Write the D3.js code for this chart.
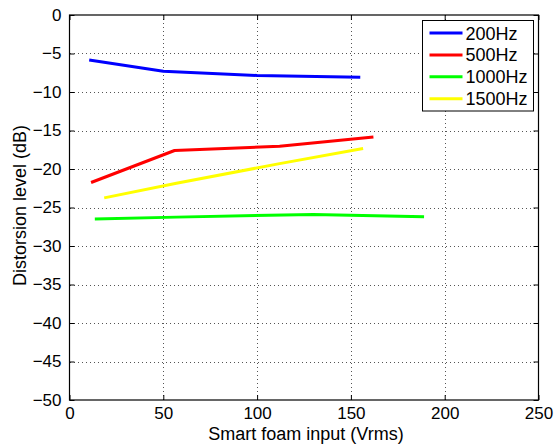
<!DOCTYPE html>
<html>
<head>
<meta charset="utf-8">
<script src="https://cdn.jsdelivr.net/npm/d3@7"></script>
<style>
  html, body { margin: 0; padding: 0; background: #fff; }
  svg text { font-family: "Liberation Sans", Arial, Helvetica, sans-serif; fill: #000; }
</style>
</head>
<body>
<svg id="chart" width="554" height="448"></svg>
<script>
// ---- data ----
const seriesNames = ["200Hz", "500Hz", "1000Hz", "1500Hz"];
const seriesColors = ["#0000ff", "#ff0000", "#00ff00", "#ffff00"];
const x200 = [10.5, 50, 100, 155];
const y200 = [-5.85, -7.3, -7.85, -8.1];
const x500 = [11.5, 56, 112, 162];
const y500 = [-21.75, -17.6, -17.05, -15.85];
const x1000 = [13.5, 57, 130, 189];
const y1000 = [-26.5, -26.25, -25.9, -26.2];
const x1500 = [18.5, 57, 112, 156.5];
const y1500 = [-23.75, -21.85, -19.3, -17.35];
const xTicks = [0, 50, 100, 150, 200, 250];
const yTicks = [0, -5, -10, -15, -20, -25, -30, -35, -40, -45, -50];
const xLabel = "Smart foam input (Vrms)";
const yLabel = "Distorsion level (dB)";

const seriesX = [x200, x500, x1000, x1500];
const seriesY = [y200, y500, y1000, y1500];

// ---- layout ----
const L = 69.5, R = 538.5, T = 15, B = 400;
const svg = d3.select("#chart");
const x = d3.scaleLinear().domain([0, 250]).range([L, R]);
const y = d3.scaleLinear().domain([-50, 0]).range([B, T]);

// grid
const grid = svg.append("g").attr("stroke", "#555").attr("stroke-width", 1)
  .attr("stroke-dasharray", "1,3").attr("shape-rendering", "crispEdges");
xTicks.slice(1, -1).forEach(t => {
  grid.append("line").attr("x1", Math.round(x(t)) + 0.5).attr("x2", Math.round(x(t)) + 0.5)
    .attr("y1", T).attr("y2", B);
});
yTicks.slice(1, -1).forEach(t => {
  grid.append("line").attr("y1", Math.round(y(t)) + 0.5).attr("y2", Math.round(y(t)) + 0.5)
    .attr("x1", L).attr("x2", R);
});

// axes (ticks inward)
const fs = 17;
const xAxisB = d3.axisBottom(x).tickValues(xTicks).tickSize(-5).tickPadding(7).tickFormat(d3.format("d"));
const xAxisT = d3.axisTop(x).tickValues(xTicks).tickSize(-5).tickFormat("");
const yAxisL = d3.axisLeft(y).tickValues(yTicks).tickSize(-5).tickPadding(8).tickFormat(d => d < 0 ? "\u2212" + Math.abs(d) : d);
const yAxisR = d3.axisRight(y).tickValues(yTicks).tickSize(-5).tickFormat("");

function style(g) {
  g.selectAll(".domain").remove();
  g.selectAll("line").attr("stroke", "#000");
  g.selectAll("text").attr("font-size", fs + "px").attr("font-family", null);
}
svg.append("g").attr("transform", `translate(0,${B})`).call(xAxisB).call(style);
svg.append("g").attr("transform", `translate(0,${T})`).call(xAxisT).call(style);
svg.append("g").attr("transform", `translate(${L},0)`).call(yAxisL).call(style);
svg.append("g").attr("transform", `translate(${R},0)`).call(yAxisR).call(style);

// lines
const line = d3.line().x(d => x(d[0])).y(d => y(d[1]));
seriesNames.forEach((n, i) => {
  const pts = seriesX[i].map((v, j) => [v, seriesY[i][j]]);
  svg.append("path").datum(pts).attr("d", line).attr("fill", "none")
    .attr("stroke", seriesColors[i]).attr("stroke-width", 3).attr("stroke-linejoin", "round");
});

// box
svg.append("rect").attr("x", L).attr("y", T).attr("width", R - L).attr("height", B - T)
  .attr("fill", "none").attr("stroke", "#000").attr("stroke-width", 1.2);

// legend
const lg = svg.append("g");
lg.append("rect").attr("x", 422.5).attr("y", 20.5).attr("width", 111).attr("height", 90.5)
  .attr("fill", "#fff").attr("stroke", "#000").attr("stroke-width", 1);
seriesNames.forEach((n, i) => {
  const cy = 33 + i * 21.9;
  lg.append("line").attr("x1", 429.5).attr("x2", 462.5).attr("y1", cy).attr("y2", cy)
    .attr("stroke", seriesColors[i]).attr("stroke-width", 3);
  lg.append("text").attr("x", 465.5).attr("y", cy + 6.5).attr("font-size", "18px").text(n);
});

// axis labels
svg.append("text").attr("x", (L + R) / 2 + 2).attr("y", 440).attr("text-anchor", "middle")
  .attr("font-size", "18px").text(xLabel);
svg.append("text").attr("transform", `translate(26,${(T + B) / 2 - 2}) rotate(-90)`)
  .attr("text-anchor", "middle").attr("font-size", "18px").text(yLabel);
</script>
</body>
</html>
